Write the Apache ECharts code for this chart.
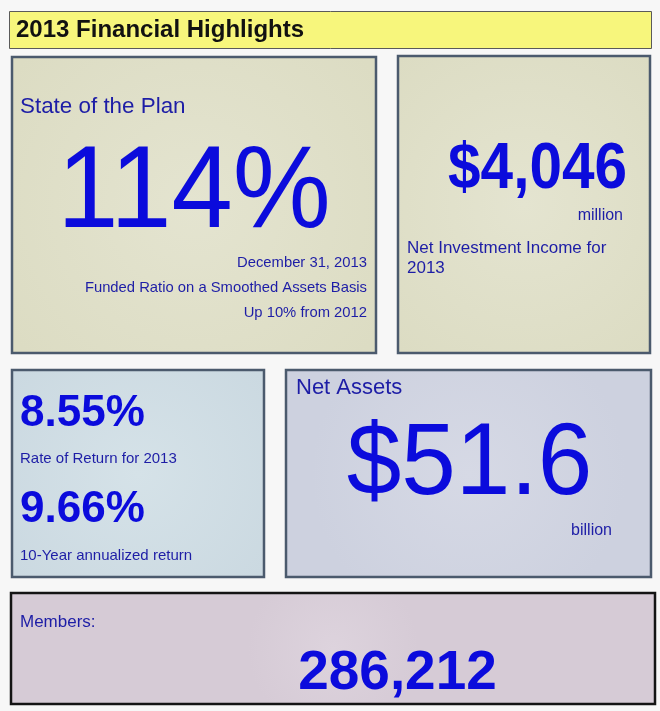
<!DOCTYPE html>
<html>
<head>
    <meta charset="UTF-8">
    <title>2013 Financial Highlights</title>
    <script src="https://cdn.jsdelivr.net/npm/echarts@6/dist/echarts.min.js"></script>
    <style>
        html, body { margin: 0; padding: 0; background: #f7f7f7; }
        #main { width: 660px; height: 711px; }
    </style>
</head>
<body>
<div id="main"></div>
<script type="text/javascript">
    // texts and figures
    var headline = '2013 Financial Highlights';
    var panelTitles = ['State of the Plan', 'Net Assets', 'Members:'];
    var figures = ['114%', '$4,046', '8.55%', '9.66%', '$51.6', '286,212'];
    var units = ['million', 'billion'];
    var planNotes = ['December 31, 2013', 'Funded Ratio on a Smoothed Assets Basis', 'Up 10% from 2012'];
    var incomeNotes = ['Net Investment Income for', '2013'];
    var returnNotes = ['Rate of Return for 2013', '10-Year annualized return'];

    var FONT = 'Liberation Sans, Arial, Helvetica, sans-serif';
    var BIG = '#0b0bdc';
    var LABEL = '#1d1da6';
    var EDGE = '#4b5a6d';

    function glow(inner, outer) {
        return new echarts.graphic.RadialGradient(0.5, 0.5, 0.75, [
            {offset: 0, color: inner},
            {offset: 1, color: outer}
        ]);
    }

    function box(x, y, w, h, fill, stroke, lw) {
        return {
            type: 'rect',
            shape: {x: x, y: y, width: w, height: h},
            style: {fill: fill, stroke: stroke, lineWidth: lw}
        };
    }

    // y is the text baseline; canvas 'middle' sits about 0.29em above it
    function txt(str, x, base, size, color, opts) {
        opts = opts || {};
        var align = opts.align || 'left';
        return {
            type: 'text',
            x: x,
            y: base - 0.288 * size,
            scaleX: opts.sx || 1,
            style: {
                text: str,
                x: 0,
                y: 0,
                fontSize: size,
                fontWeight: opts.bold ? 'bold' : 'normal',
                fontFamily: FONT,
                fill: color,
                align: align,
                textAlign: align,
                verticalAlign: 'middle',
                textVerticalAlign: 'middle'
            }
        };
    }

    var els = [];

    // header bar
    els.push(box(9.5, 11.5, 642, 37, '#f7f67c', '#5a5a5a', 1));
    els.push(txt(headline, 16, 37.7, 24, '#111111', {bold: true}));

    // panels
    els.push(box(12, 57, 364, 296, glow('#e4e4d0', '#dcdcc3'), EDGE, 2.5));
    els.push(box(398, 56, 252, 297, glow('#e4e4d0', '#dcdcc3'), EDGE, 2.5));
    els.push(box(12, 370, 252, 207, glow('#d5e2e8', '#cbd9e1'), EDGE, 2.5));
    els.push(box(286, 370, 365, 207, glow('#d6d9e5', '#cdd1df'), EDGE, 2.5));
    els.push(box(11, 593, 644, 111, glow('#ddd3dd', '#d6cbd6'), '#141414', 2.5));

    // state of the plan
    els.push(txt(panelTitles[0], 20, 113, 22.4, LABEL));
    els.push(txt(figures[0], 194, 228, 116, BIG, {align: 'center', sx: 0.95}));
    planNotes.forEach(function (s, i) {
        els.push(txt(s, 367, 267 + i * 25, 14.8, LABEL, {align: 'right'}));
    });

    // net investment income
    els.push(txt(figures[1], 627, 188.7, 65, BIG, {bold: true, align: 'right', sx: 0.9}));
    els.push(txt(units[0], 623, 220, 16, LABEL, {align: 'right'}));
    incomeNotes.forEach(function (s, i) {
        els.push(txt(s, 407, 253.3 + i * 20, 17, LABEL));
    });

    // returns
    els.push(txt(figures[2], 20, 426.7, 44, BIG, {bold: true}));
    els.push(txt(returnNotes[0], 20, 463.5, 15, LABEL));
    els.push(txt(figures[3], 20, 522.2, 44, BIG, {bold: true}));
    els.push(txt(returnNotes[1], 20, 560, 15, LABEL));

    // net assets
    els.push(txt(panelTitles[1], 296, 394, 22, LABEL));
    els.push(txt(figures[4], 469.5, 495.4, 102, BIG, {align: 'center', sx: 0.962}));
    els.push(txt(units[1], 612, 535, 16, LABEL, {align: 'right'}));

    // members
    els.push(txt(panelTitles[2], 20, 627, 17, LABEL));
    els.push(txt(figures[5], 397.5, 690.1, 56, BIG, {bold: true, align: 'center', sx: 0.98}));

    var myChart = echarts.init(document.getElementById('main'));
    myChart.setOption({
        backgroundColor: '#f7f7f7',
        animation: false,
        graphic: {elements: els}
    });
</script>
</body>
</html>
